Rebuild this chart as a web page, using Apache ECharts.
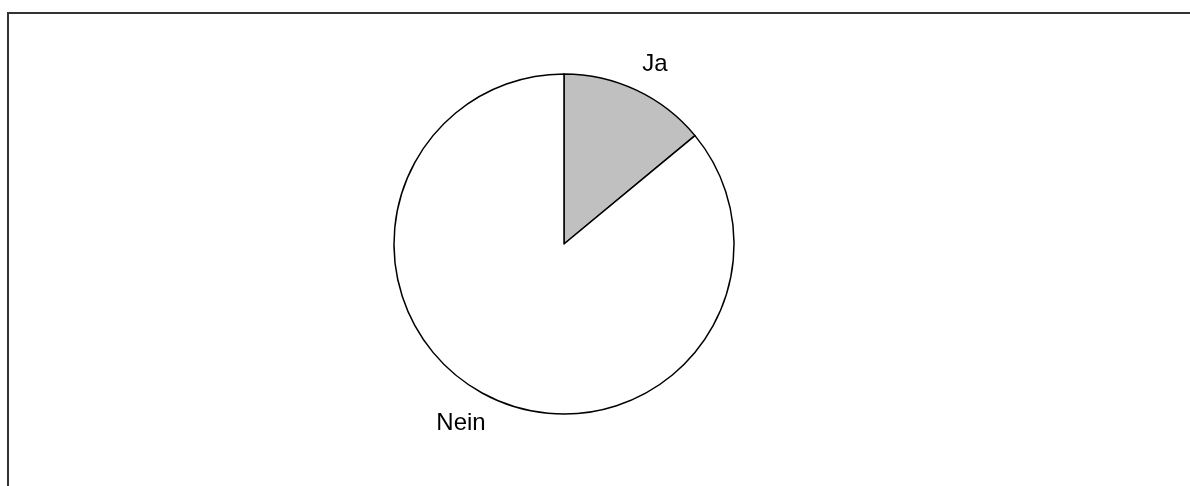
<!DOCTYPE html>
<html>
<head>
<meta charset="utf-8">
<script src="https://cdn.jsdelivr.net/npm/echarts@6/dist/echarts.min.js"></script>
<style>
  html, body { margin: 0; padding: 0; background: #fff; }
  #chart { position: absolute; left: 0; top: 0; width: 1190px; height: 486px; }
  #frame { position: absolute; left: 7px; top: 12px; right: -10px; bottom: -10px;
           border-left: 2px solid #333; border-top: 2px solid #333; pointer-events: none; }
</style>
</head>
<body>
<div id="chart"></div>
<div id="frame"></div>
<script>
// Survey answers (share of respondents)
const categories = ['Ja', 'Nein'];
const shares = [14, 86];
const sliceColors = ['#c0c0c0', '#ffffff'];

const chart = echarts.init(document.getElementById('chart'), null, { renderer: 'canvas' });

chart.setOption({
  animation: false,
  series: [{
    type: 'pie',
    center: [564, 244],
    radius: 170,
    startAngle: 90,
    clockwise: true,
    avoidLabelOverlap: false,
    itemStyle: { borderColor: '#000', borderWidth: 1.5 },
    emphasis: { disabled: true },
    label: {
      show: true,
      position: 'outside',
      formatter: '{b}',
      fontFamily: 'Liberation Sans, Arial, sans-serif',
      fontSize: 24,
      color: '#000'
    },
    labelLine: { show: false, length: 28, length2: -11 },
    data: categories.map((name, i) => ({
      name,
      value: shares[i],
      itemStyle: { color: sliceColors[i] }
    }))
  }]
});
</script>
</body>
</html>
